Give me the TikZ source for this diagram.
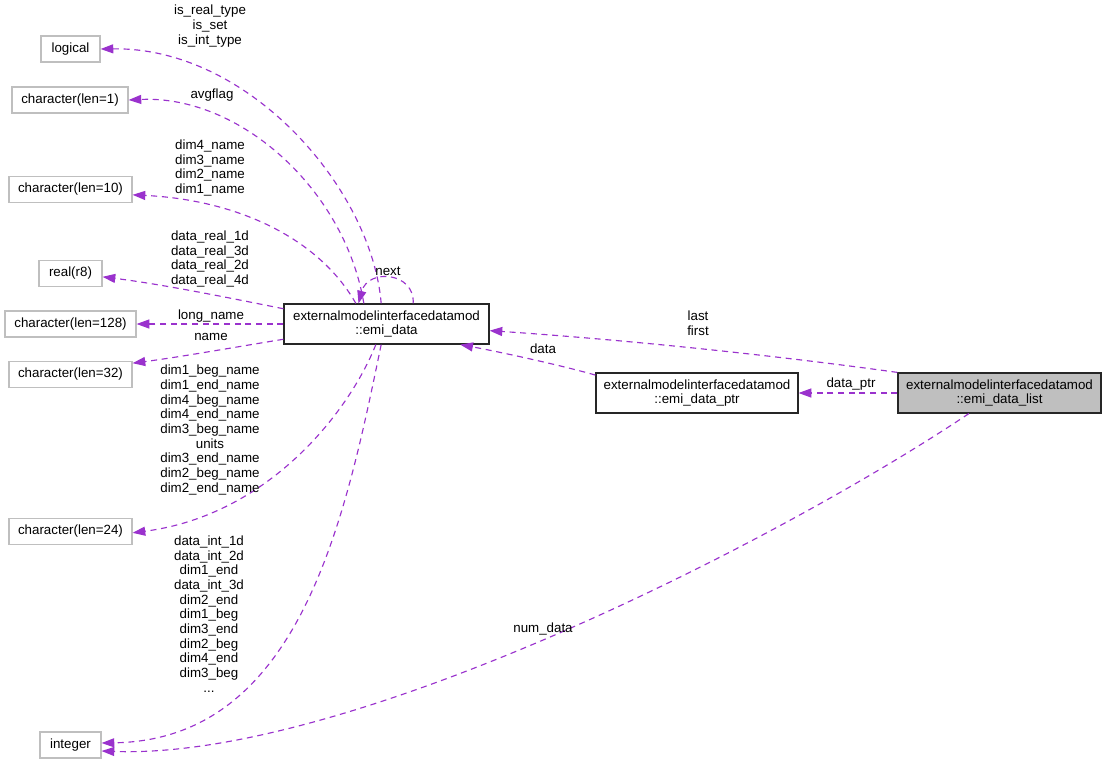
\documentclass[tikz,border=0pt]{standalone}
\usepackage{fontspec}
\setmainfont{Liberation Sans}
\usetikzlibrary{arrows.meta}
\definecolor{edgec}{HTML}{9A32CD}
\definecolor{greyb}{HTML}{BFBFBF}
\begin{document}
\begin{tikzpicture}[x=0.75pt,y=-0.75pt,
  lbl/.style={font=\fontsize{10}{11}\selectfont, align=center, inner sep=0pt, text=black},
  typebox/.style={draw=greyb, line width=0.9pt, minimum height=19.5pt, inner sep=0pt, font=\fontsize{10}{11}\selectfont},
  classbox/.style={draw=black!85, line width=0.9pt, minimum height=30pt, align=center, inner sep=0pt, font=\fontsize{10}{11}\selectfont},
  rel/.style={draw=edgec, line width=0.85pt, dash pattern=on 4.5pt off 3.5pt, -{Triangle[length=9.5pt,width=6.75pt]}}]
\useasboundingbox (0,0) rectangle (1107,764);
\fill[white] (0,0) rectangle (1107,764);
% type nodes
\node[typebox, minimum width=44.25pt] (logical) at (70.5,49) {logical};
\node[typebox, minimum width=87pt] (char1) at (70,100) {character(len=1)};
\node[typebox, minimum width=92.25pt] (char10) at (70.5,189.5) {character(len=10)};
\node[typebox, minimum width=47.25pt] (real) at (70.5,273.5) {real(r8)};
\node[typebox, minimum width=98.25pt] (char128) at (70.5,324) {character(len=128)};
\node[typebox, minimum width=92.25pt] (char32) at (70.5,374.5) {character(len=32)};
\node[typebox, minimum width=92.25pt] (char24) at (70.5,531.5) {character(len=24)};
\node[typebox, minimum width=45.75pt] (integer) at (70.5,745) {integer};
% class nodes
\node[classbox, minimum width=153.75pt] (emid) at (386.5,324) {externalmodelinterfacedatamod\\::emi\_data};
\node[classbox, minimum width=151.5pt] (ptr) at (697,393) {externalmodelinterfacedatamod\\::emi\_data\_ptr};
\node[classbox, minimum width=152.25pt, fill=greyb] (list) at (999.5,393) {externalmodelinterfacedatamod\\::emi\_data\_list};
% edges
\draw[rel] ([xshift=-4pt]emid.north) .. controls (372,190) and (250,47) .. (logical.east);
\draw[rel] ([xshift=-17pt]emid.north) .. controls (345,190) and (240,95) .. (char1.east);
\draw[rel] ([xshift=-23pt]emid.north) .. controls (320,240) and (240,200) .. ([yshift=-4pt]char10.east);
\draw[rel] ([yshift=-4pt]emid.north west) .. controls (220,296) and (160,284) .. ([yshift=-2.5pt]real.east);
\draw[rel] (emid.west) -- (char128.east);
\draw[rel] ([yshift=4pt]emid.south west) .. controls (230,348) and (180,357) .. ([yshift=8.5pt]char32.east);
\draw[rel] ([xshift=-8pt]emid.south) .. controls (350,410) and (270,515) .. ([yshift=-1pt]char24.east);
\draw[rel] ([xshift=-4pt]emid.south) .. controls (345,520) and (300,740) .. ([yshift=1.5pt]integer.east);
\draw[rel] ([xshift=20pt]emid.north) .. controls (415,272) and (368,268) .. ([xshift=-21pt]emid.north);
\draw[rel] (list.north west) .. controls (750,352) and (600,338) .. ([yshift=-5pt]emid.east);
\draw[rel] ([yshift=-2pt]ptr.north west) .. controls (560,365) and (500,352) .. ([xshift=-22pt]emid.south east);
\draw[rel] (list.west) -- (ptr.east);
\draw[rel] ([xshift=-23pt]list.south) .. controls (780,540) and (350,760) .. ([yshift=-4.5pt]integer.east);
% labels
\node[lbl] (tLogical) at (210,26) {is\_real\_type\\is\_set\\is\_int\_type};
\node[lbl] (tAvg) at (212,95) {avgflag};
\node[lbl] (tDimName) at (210,168) {dim4\_name\\dim3\_name\\dim2\_name\\dim1\_name};
\node[lbl] (tReal) at (210,259) {data\_real\_1d\\data\_real\_3d\\data\_real\_2d\\data\_real\_4d};
\node[lbl] (tLong) at (211,316) {long\_name};
\node[lbl] (tName) at (211,337) {name};
\node[lbl] (tBegEnd) at (210,430) {dim1\_beg\_name\\dim1\_end\_name\\dim4\_beg\_name\\dim4\_end\_name\\dim3\_beg\_name\\units\\dim3\_end\_name\\dim2\_beg\_name\\dim2\_end\_name};
\node[lbl] (tInt) at (209,614) {data\_int\_1d\\data\_int\_2d\\dim1\_end\\data\_int\_3d\\dim2\_end\\dim1\_beg\\dim3\_end\\dim2\_beg\\dim4\_end\\dim3\_beg\\...};
\node[lbl] (tNext) at (388,271) {next};
\node[lbl] (tLast) at (698,323) {last\\first};
\node[lbl] (tData) at (543,349) {data};
\node[lbl] (tPtr) at (851,384) {data\_ptr};
\node[lbl] (tNum) at (543,629) {num\_data};
\end{tikzpicture}
\end{document}
